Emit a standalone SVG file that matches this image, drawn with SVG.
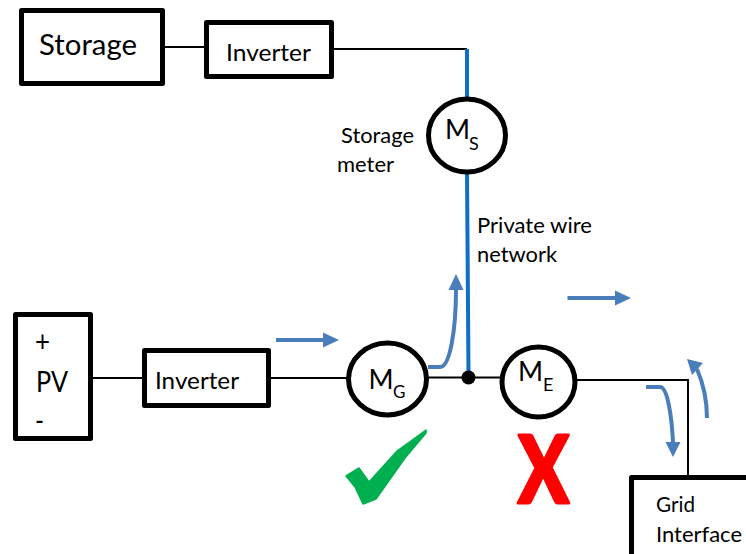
<svg xmlns="http://www.w3.org/2000/svg" width="746" height="554" viewBox="0 0 746 554">
<style>
text{font-family:"Lato","Carlito","Liberation Sans",sans-serif;fill:#000}
.box{fill:#fff;stroke:#000;stroke-width:5;stroke-linejoin:round}
.meter{fill:#fff;stroke:#000;stroke-width:5}
.wire{fill:none;stroke:#000;stroke-width:2}
.bus{fill:none;stroke:#0f6fc6;stroke-width:4}
.flow{fill:none;stroke:#4a7ebb;stroke-width:4}
.head{fill:#4a7ebb}
</style>
<rect width="746" height="554" fill="#fff"/>
<g id="connectors">
<path class="wire" d="M165 47H206"/>
<path class="wire" d="M332 49H467"/>
<path class="wire" d="M91 378H144"/>
<path class="wire" d="M269 378H348"/>
<path class="wire" d="M427 377.500H502"/>
<path class="wire" d="M576 380H688V477"/>
<path class="bus" d="M467 49V99"/>
<path class="bus" d="M467 172L468.500 374"/>
<circle cx="468.500" cy="377.500" r="7" fill="#000"/>
</g>
<g id="storage"><rect class="box" x="21.500" y="10.500" width="141" height="73"/><text x="39" y="54.500" font-size="29" textLength="98" lengthAdjust="spacingAndGlyphs">Storage</text></g>
<g id="inverter-top"><rect class="box" x="206.500" y="22.500" width="125" height="54"/><text x="226" y="60.500" font-size="24" textLength="85" lengthAdjust="spacingAndGlyphs">Inverter</text></g>
<g id="pv"><rect class="box" x="15.500" y="314.500" width="75" height="124"/><text x="35" y="352" font-size="28" textLength="15" lengthAdjust="spacingAndGlyphs">+</text><text x="36" y="392" font-size="28" textLength="32" lengthAdjust="spacingAndGlyphs">PV</text><text x="35" y="431" font-size="28" textLength="9" lengthAdjust="spacingAndGlyphs">-</text></g>
<g id="inverter-pv"><rect class="box" x="144.500" y="350.500" width="124" height="55"/><text x="155" y="389" font-size="24" textLength="84" lengthAdjust="spacingAndGlyphs">Inverter</text></g>
<g id="meter-s"><ellipse class="meter" cx="467" cy="135.500" rx="38.500" ry="36.500"/><text x="445" y="139" font-size="27">M<tspan x="469" y="150" font-size="18">S</tspan></text></g>
<g id="meter-g"><ellipse class="meter" cx="387.500" cy="379" rx="39" ry="36"/><text x="368.500" y="389" font-size="27">M<tspan x="393" y="398" font-size="17">G</tspan></text></g>
<g id="meter-e"><ellipse class="meter" cx="538.500" cy="382" rx="36.500" ry="35"/><text x="518" y="381" font-size="27">M<tspan x="543" y="391" font-size="18">E</tspan></text></g>
<g id="grid-interface"><rect class="box" x="631.500" y="477.500" width="130" height="90"/><text x="656" y="512" font-size="22" textLength="39" lengthAdjust="spacingAndGlyphs">Grid</text><text x="656" y="542" font-size="22" textLength="86" lengthAdjust="spacingAndGlyphs">Interface</text></g>
<g id="label-storage-meter"><text x="341" y="143" font-size="22" textLength="73" lengthAdjust="spacingAndGlyphs">Storage</text><text x="337" y="172" font-size="22" textLength="57" lengthAdjust="spacingAndGlyphs">meter</text></g>
<g id="label-private-wire"><text x="477" y="233" font-size="22" textLength="115" lengthAdjust="spacingAndGlyphs">Private wire</text><text x="477" y="262" font-size="22" textLength="80" lengthAdjust="spacingAndGlyphs">network</text></g>
<g id="flow-arrows">
<path class="flow" d="M276 340H324"/><polygon class="head" points="323,332.500 339,340 323,347.500"/>
<path class="flow" d="M567.500 298H616"/><polygon class="head" points="615,290.500 631,298 615,305.500"/>
<path class="flow" d="M428 367H440C450 367 456 330 456 289"/><polygon class="head" points="448.500,290 456,274 463.500,290"/>
<path class="flow" d="M646 387H660C668 387 672 420 673 443"/><polygon class="head" points="665.500,442 680.500,442 673,457"/>
<path class="flow" d="M707 418C707 400 703 383 697 369"/><polygon class="head" points="687,359 703,363 692,375"/>
</g>
<g id="check-mark"><polygon fill="#00b050" stroke="#00b050" stroke-width="1.500" stroke-linejoin="round" points="346,476 359,468 369,482 397,451 426,430 426,433 405,458 376,499 363,504 355,487"/></g>
<g id="cross-mark"><text x="518" y="503" font-size="94" font-weight="900" textLength="51" lengthAdjust="spacingAndGlyphs" style="fill:#f00;stroke:#f00;stroke-width:3;stroke-linejoin:round">X</text></g>
</svg>
